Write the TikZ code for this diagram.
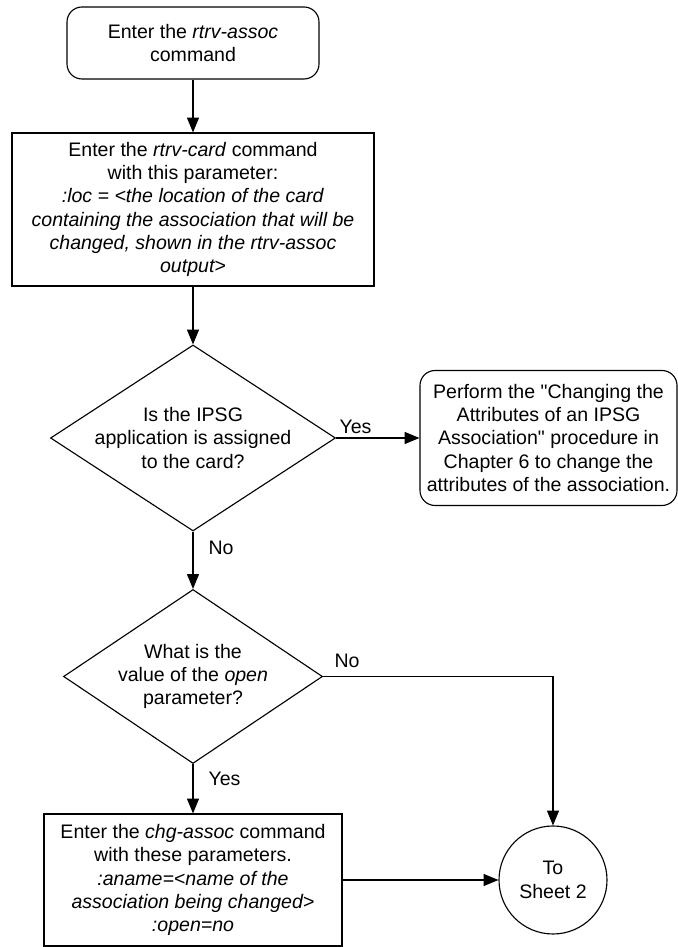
\documentclass[tikz,border=0pt]{standalone}
\usepackage{fontspec}
\setmainfont{Liberation Sans}
\usetikzlibrary{shapes.geometric,arrows.meta}

\begin{document}
\begin{tikzpicture}[font=\fontsize{13.9}{16.6}\selectfont, line width=0.8pt,
  flow/.style={-{Triangle[length=10.5pt,width=8.5pt]}},
  startbox/.style={draw, rounded corners=0.375cm, align=center, inner sep=0pt},
  procbox/.style={draw, align=center, inner sep=0pt},
  decision/.style={draw, diamond, inner sep=0pt},
  sheetcirc/.style={draw, circle, inner sep=0pt, minimum size=2.7cm, align=center},
  lbl/.style={inner sep=1pt}]
  \useasboundingbox (0,0) rectangle (16.95,23.675);
  % === Start ===
  \node[startbox, minimum width=6.3cm, minimum height=1.8cm] (start) at (4.825,22.6)
    {Enter the \textit{rtrv-assoc}\\command};
  % === rtrv-card ===
  \node[procbox, minimum width=9.05cm, minimum height=3.825cm] (card) at (4.825,18.4375)
    {Enter the \textit{rtrv-card} command\\with this parameter:\\
     \textit{:loc = <the location of the card}\\
     \textit{containing the association that will be}\\
     \textit{changed, shown in the rtrv-assoc}\\
     \textit{output>}};
  % === IPSG question ===
  \node[decision, minimum width=7.125cm, minimum height=4.65cm] (q1) at (4.825,12.725) {};
  \node[align=center] (q1txt) at (q1.center)
    {Is the IPSG\\application is assigned\\to the card?};
  % === Other procedure ===
  \node[startbox, minimum width=6.425cm, minimum height=3.375cm] (perf) at (13.7125,12.725)
    {Perform the \textquotedbl Changing the\\Attributes of an IPSG\\Association\textquotedbl{} procedure in\\
     Chapter 6 to change the\\attributes of the association.};
  % === open question ===
  \node[decision, minimum width=6.475cm, minimum height=4.35cm] (q2) at (4.825,6.7625) {};
  \node[align=center] (q2txt) at (q2.center)
    {What is the\\value of the \textit{open}\\parameter?};
  % === chg-assoc ===
  \node[procbox, minimum width=7.45cm, minimum height=3.3cm] (chg) at (4.825,1.675)
    {Enter the \textit{chg-assoc} command\\with these parameters.\\
     \textit{:aname=<name of the}\\
     \textit{association being changed>}\\
     \textit{:open=no}};
  % === Off-page connector ===
  \node[sheetcirc] (sheet) at (13.825,1.675) {To\\Sheet 2};
  % === Connectors ===
  \draw[flow] (start.south) -- (card.north);
  \draw[flow] (card.south) -- (q1.north);
  \draw[flow] (q1.east) -- node[lbl, anchor=south west, pos=0, xshift=1.1pt, yshift=1.85pt] (yes1) {Yes} (perf.west);
  \draw[flow] (q1.south) -- node[lbl, anchor=west, pos=0.29, xshift=9.7pt] (no1) {No} (q2.north);
  \draw[flow] (q2.east) -| node[lbl, anchor=south west, pos=0, xshift=6.8pt, yshift=5pt] (no2) {No} (sheet.north);
  \draw[flow] (q2.south) -- node[lbl, anchor=west, pos=0.31, xshift=9.7pt] (yes2) {Yes} (chg.north);
  \draw[flow] (chg.east) -- (sheet.west);
\end{tikzpicture}
\end{document}
